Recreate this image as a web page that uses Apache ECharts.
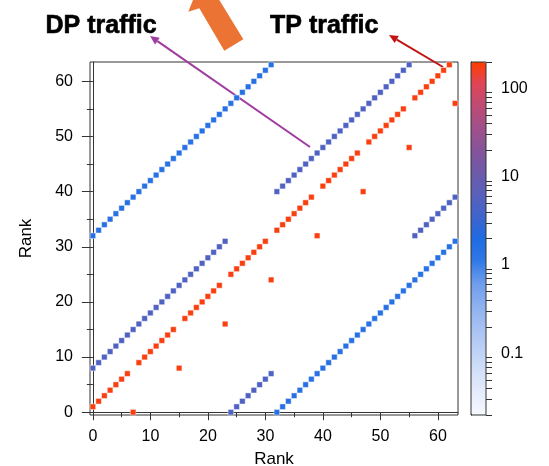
<!DOCTYPE html>
<html><head><meta charset="utf-8">
<script src="https://cdn.jsdelivr.net/npm/echarts@6/dist/echarts.min.js"></script>
<style>html,body{margin:0;padding:0;background:#fff}#c{width:549px;height:466px}</style>
</head><body><div id="c"></div>
<script>
// Source ranks (x axis)
const ranks = [0,1,2,3,4,5,6,7,8,9,10,11,12,13,14,15,16,17,18,19,20,21,22,23,24,25,26,27,28,29,30,31,
  32,33,34,35,36,37,38,39,40,41,42,43,44,45,46,47,48,49,50,51,52,53,54,55,56,57,58,59,60,61,62,63];
// Destination rank for each source rank (y axis)
const tpRingY = [1,2,3,4,5,6,7,0, 9,10,11,12,13,14,15,8, 17,18,19,20,21,22,23,16, 25,26,27,28,29,30,31,24,
  33,34,35,36,37,38,39,32, 41,42,43,44,45,46,47,40, 49,50,51,52,53,54,55,48, 57,58,59,60,61,62,63,56];
const dpRingY = [8,9,10,11,12,13,14,15,16,17,18,19,20,21,22,23,24,25,26,27,28,29,30,31, 0,1,2,3,4,5,6,7,
  40,41,42,43,44,45,46,47,48,49,50,51,52,53,54,55,56,57,58,59,60,61,62,63, 32,33,34,35,36,37,38,39];
const crossY = [32,33,34,35,36,37,38,39,40,41,42,43,44,45,46,47,48,49,50,51,52,53,54,55,56,57,58,59,60,61,62,63,
  0,1,2,3,4,5,6,7,8,9,10,11,12,13,14,15,16,17,18,19,20,21,22,23,24,25,26,27,28,29,30,31];
// Traffic volume of each group (colour scale, log)
const tpValue = 180;
const dpValue = 5;
const crossValue = 1.5;
// Ticks
const axisTicks = [0,10,20,30,40,50,60];
const axisMinorTicks = [5,15,25,35,45,55];
const colorbarTicks = [0.1,1,10,100];
const colorbarMinorTicks = [0.02,0.03,0.04,0.05,0.06,0.07,0.08,0.09,0.2,0.3,0.4,0.5,0.6,0.7,0.8,0.9,
  2,3,4,5,6,7,8,9,20,30,40,50,60,70,80,90,200];
const colorMin = 0.02, colorMax = 200;
const colorStops = ['#f8f9ff','#e6edfc','#d2e0f8','#bcd0f5','#a5c0f2','#8cb0ef','#6c9cec','#2f78e6',
  '#1f6be2','#3f64cc','#5a60bc','#6e5aa8','#85549a','#a0508a','#bd4b75','#df4556','#ff3c00'];

const L = Math.log10;
const cells = [];
ranks.forEach((x, i) => cells.push([x, crossY[i], L(crossValue)]));
ranks.forEach((x, i) => cells.push([x, dpRingY[i], L(dpValue)]));
ranks.forEach((x, i) => cells.push([x, tpRingY[i], L(tpValue)]));

const FONT = '"Liberation Sans", Arial, Helvetica, sans-serif';
const axColor = '#333';

function mainAxis(isMinor, extra) {
  return Object.assign({
    gridIndex: 0, type: 'value', min: -0.5, max: 63.5,
    splitLine: {show: false},
    axisLine: {show: !isMinor, lineStyle: {color: axColor, width: 1}},
    axisTick: {show: true, inside: false, customValues: isMinor ? axisMinorTicks : axisTicks,
      length: isMinor ? 5 : 8, lineStyle: {color: axColor, width: 1}},
    axisLabel: isMinor ? {show: false} : {show: true, customValues: axisTicks, fontSize: 16,
      fontFamily: FONT, color: '#000'}
  }, extra || {});
}

function arrow(x1, y1, x2, y2, color, w, head) {
  const a = Math.atan2(y2 - y1, x2 - x1);
  const bx = x2 - Math.cos(a) * head, by = y2 - Math.sin(a) * head;
  const hw = head * 0.45;
  return {
    type: 'group', children: [
      {type: 'line', shape: {x1, y1, x2: bx, y2: by}, style: {stroke: color, lineWidth: w}},
      {type: 'polygon', shape: {points: [[x2, y2],
        [bx + Math.sin(a) * hw, by - Math.cos(a) * hw],
        [bx - Math.sin(a) * hw, by + Math.cos(a) * hw]]}, style: {fill: color}}
    ]
  };
}

const chart = echarts.init(document.getElementById('c'), null, {renderer: 'canvas'});
chart.setOption({
  backgroundColor: '#fff',
  animation: false,
  grid: [
    {left: 90, top: 62, width: 368, height: 353, show: true, borderColor: axColor, borderWidth: 1,
      backgroundColor: 'transparent', outerBoundsMode: 'none', containLabel: false},
    {left: 471, top: 62, width: 15, height: 353, show: true, borderColor: axColor, borderWidth: 1,
      backgroundColor: 'transparent', z: 10, outerBoundsMode: 'none', containLabel: false}
  ],
  xAxis: [
    mainAxis(false, {position: 'bottom', name: 'Rank', nameLocation: 'middle', nameGap: 36,
      nameTextStyle: {fontSize: 17, fontFamily: FONT, color: '#000'},
      axisLabel: {show: true, customValues: axisTicks, fontSize: 16, fontFamily: FONT, color: '#000', margin: 14}}),
    mainAxis(true, {position: 'bottom'}),
    {gridIndex: 1, type: 'value', min: 0, max: 1, show: false}
  ],
  yAxis: [
    mainAxis(false, {position: 'left', name: 'Rank', nameLocation: 'middle', nameGap: 55, nameRotate: 90,
      nameTextStyle: {fontSize: 17, fontFamily: FONT, color: '#000'},
      axisTick: {show: true, inside: false, customValues: axisTicks, length: 11, lineStyle: {color: axColor}},
      axisLabel: {show: true, customValues: axisTicks, fontSize: 16, fontFamily: FONT, color: '#000', margin: 17}}),
    mainAxis(true, {position: 'left',
      axisTick: {show: true, inside: false, customValues: axisMinorTicks, length: 6, lineStyle: {color: axColor}}}),
    {gridIndex: 1, type: 'value', position: 'right', min: L(colorMin), max: L(colorMax),
      splitLine: {show: false},
      axisLine: {show: true, lineStyle: {color: axColor}},
      axisTick: {show: true, inside: false, length: 11, customValues: colorbarTicks.map(L), lineStyle: {color: axColor}},
      axisLabel: {show: true, customValues: colorbarTicks.map(L), fontSize: 16, fontFamily: FONT, color: '#000', margin: 15,
        formatter: v => String(Math.round(Math.pow(10, v) * 1000) / 1000)}},
    {gridIndex: 1, type: 'value', position: 'right', min: L(colorMin), max: L(colorMax),
      splitLine: {show: false}, axisLine: {show: false},
      axisTick: {show: true, inside: false, length: 6, customValues: colorbarMinorTicks.map(L), lineStyle: {color: axColor}},
      axisLabel: {show: false}}
  ],
  visualMap: {
    type: 'continuous', min: L(colorMin), max: L(colorMax), dimension: 2, seriesIndex: 0,
    orient: 'vertical', left: 471, top: 62, itemWidth: 15, itemHeight: 353, padding: 0,
    calculable: false, hoverLink: false, text: null, showLabel: false,
    inRange: {color: colorStops}
  },
  series: [{
    type: 'scatter', xAxisIndex: 0, yAxisIndex: 0, symbol: 'rect', symbolSize: 5.6,
    itemStyle: {borderColor: 'rgba(255,255,255,0.45)', borderWidth: 1, opacity: 1},
    emphasis: {disabled: true},
    data: cells
  }],
  graphic: [
    {type: 'polygon', shape: {points: [[193,0],[188.3,11.7],[199.3,8.3],[224.3,50.7],[243.3,39.3],[219.3,0]]},
      style: {fill: '#eb7435'}, z: 100},
    arrow(310, 147, 150, 36, '#a03ca0', 2, 9),
    arrow(443, 67, 389, 35, '#c01414', 2, 9),
    {type: 'text', x: 45.5, y: 26, style: {text: 'DP traffic', font: 'bold 25px ' + FONT, fill: '#000', stroke: '#000', lineWidth: 0.6, verticalAlign: 'middle'}, z: 100},
    {type: 'text', x: 270, y: 26, style: {text: 'TP traffic', font: 'bold 25px ' + FONT, fill: '#000', stroke: '#000', lineWidth: 0.6, verticalAlign: 'middle'}, z: 100}
  ]
});
</script>
</body></html>
